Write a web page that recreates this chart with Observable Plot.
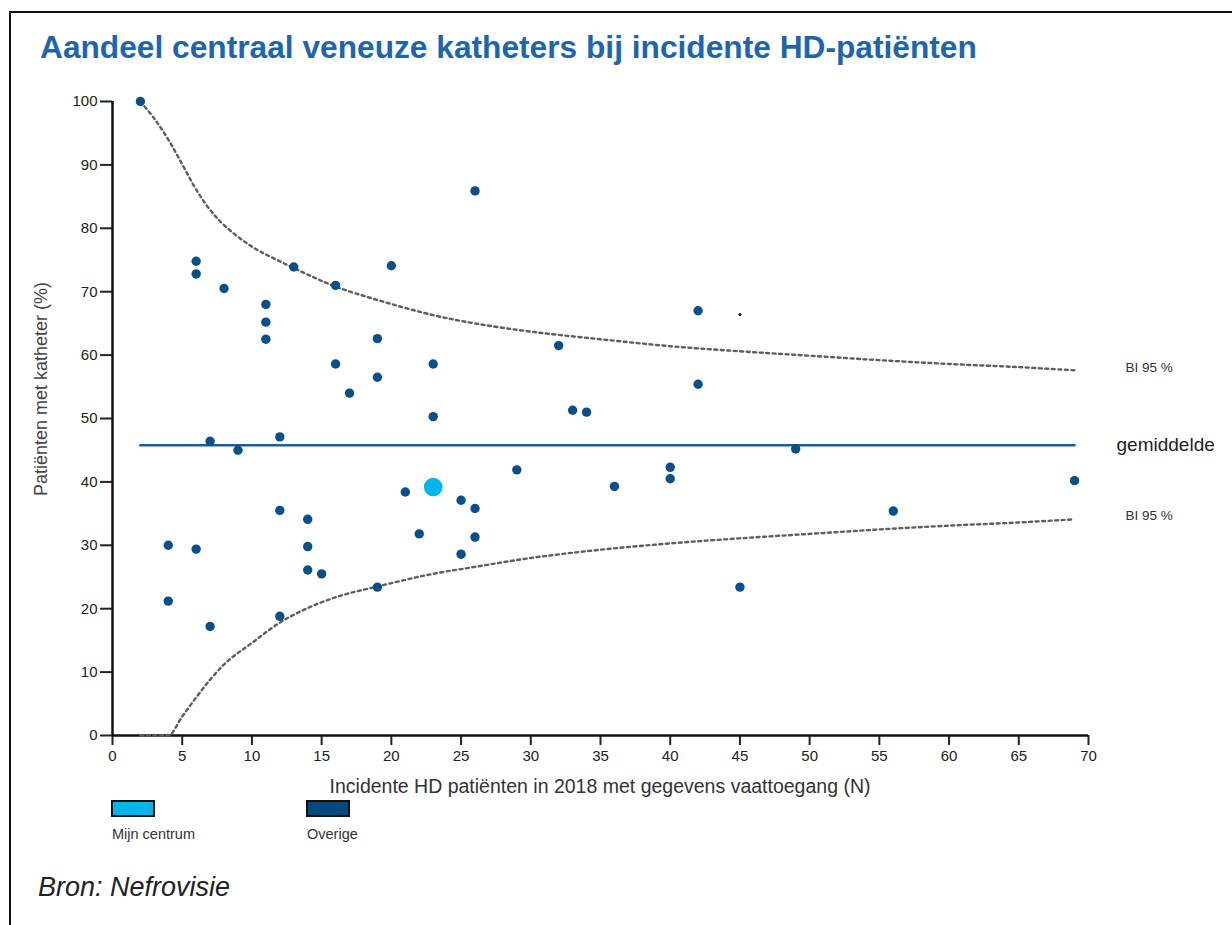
<!DOCTYPE html>
<html>
<head>
<meta charset="utf-8">
<script src="https://cdn.jsdelivr.net/npm/d3@7"></script>
<script src="https://cdn.jsdelivr.net/npm/@observablehq/plot@0.6"></script>
<style>
  body { margin: 0; background: #fff; }
  #wrap { position: relative; width: 1232px; height: 925px; overflow: hidden; font-family: "Liberation Sans", Arial, sans-serif; }
  #frame { position: absolute; left: 9px; top: 11px; right: -10px; bottom: -10px; border-top: 2px solid #111; border-left: 2px solid #111; }
  #chart { position: absolute; left: 0; top: 0; }
  .t { position: absolute; white-space: nowrap; line-height: 1; }
  .sw { position: absolute; box-sizing: border-box; border: 2px solid #111; width: 44px; height: 17px; top: 800px; }
</style>
</head>
<body>
<div id="wrap">
  <div id="frame"></div>
  <div id="chart"></div>
  <div class="t" id="title" style="left:40px; top:32px; font-size:31.7px; font-weight:bold; color:#1f65ab;"></div>
  <div class="t" id="ylab" style="left:41px; top:389px; font-size:18px; color:#444; transform:translate(-50%,-50%) rotate(-90deg);"></div>
  <div class="t" id="xlab" style="left:600px; top:776.5px; font-size:19.5px; color:#333; transform:translateX(-50%);"></div>
  <div class="sw" id="sw0" style="left:111px;"></div>
  <div class="sw" id="sw1" style="left:306px;"></div>
  <div class="t" id="lg0" style="left:112px; top:827px; font-size:14.5px; color:#333;"></div>
  <div class="t" id="lg1" style="left:307px; top:827px; font-size:14.5px; color:#333;"></div>
  <div class="t" id="source" style="left:38px; top:874px; font-size:27px; font-style:italic; color:#222;"></div>
</div>
<script>
// ---- texts ----
const titleText = "Aandeel centraal veneuze katheters bij incidente HD-patiënten";
const xLabel = "Incidente HD patiënten in 2018 met gegevens vaattoegang (N)";
const yLabel = "Patiënten met katheter (%)";
const legendLabels = ["Mijn centrum", "Overige"];
const legendColors = ["#00b4ee", "#0a4f8a"];
const sourceText = "Bron: Nefrovisie";
const meanLabel = "gemiddelde";
const ciLabel = "BI 95 %";

// ---- ticks ----
const xTicks = [0, 5, 10, 15, 20, 25, 30, 35, 40, 45, 50, 55, 60, 65, 70];
const yTicks = [0, 10, 20, 30, 40, 50, 60, 70, 80, 90, 100];

// ---- data ----
const myCentreN = [23];
const myCentrePct = [39.2];

const otherN = [2, 26, 6, 6, 8, 13, 20, 16, 11, 11, 11, 19, 32, 16, 23, 19, 17, 23, 33, 34, 7, 9, 12,
  21, 29, 36, 25, 26, 12, 14, 22, 26, 4, 6, 14, 25, 14, 15, 19, 4, 12, 7,
  42, 42, 49, 40, 40, 69, 56, 45];
const otherPct = [100, 85.9, 74.8, 72.8, 70.5, 73.9, 74.1, 71.0, 68.0, 65.2, 62.5, 62.6, 61.5, 58.6, 58.6, 56.5, 54.0, 50.3, 51.3, 51.0, 46.4, 45.0, 47.1,
  38.4, 41.9, 39.3, 37.1, 35.8, 35.5, 34.1, 31.8, 31.3, 30.0, 29.4, 29.8, 28.6, 26.1, 25.5, 23.4, 21.2, 18.8, 17.2,
  67.0, 55.4, 45.2, 42.3, 40.5, 40.2, 35.4, 23.4];

const strayN = [45];
const strayPct = [66.4];

const meanPct = 45.8;
const meanRange = [2, 69];

const ciN = [2, 3, 4, 5, 6, 7, 8, 10, 12, 14, 16, 19, 23, 26, 30, 35, 40, 45, 50, 55, 60, 65, 69];
const ciUpper = [100, 97.3, 94.0, 90.1, 86.1, 82.9, 80.5, 77.1, 74.8, 72.7, 70.8, 68.7, 66.3, 65.0, 63.7, 62.5, 61.4, 60.6, 59.9, 59.2, 58.6, 58.1, 57.6];
const ciLower = [0, 0, 0, 3.0, 6.0, 8.8, 11.2, 14.6, 17.8, 20.1, 21.8, 23.5, 25.5, 26.6, 28.0, 29.3, 30.3, 31.1, 31.8, 32.5, 33.1, 33.6, 34.1];

// ---- tables ----
const others = otherN.map((n, i) => ({n, p: otherPct[i]}));
const mine = myCentreN.map((n, i) => ({n, p: myCentrePct[i]}));
const stray = strayN.map((n, i) => ({n, p: strayPct[i]}));
const upper = ciN.map((n, i) => ({n, p: ciUpper[i]}));
const lower = ciN.map((n, i) => ({n, p: ciLower[i]}));
const meanLine = meanRange.map(n => ({n, p: meanPct}));
const lastN = ciN[ciN.length - 1];

const chart = Plot.plot({
  width: 1232,
  height: 925,
  marginLeft: 112,
  marginRight: 144,
  marginTop: 101,
  marginBottom: 190,
  x: {domain: [0, 70]},
  y: {domain: [0, 100]},
  style: {fontFamily: '"Liberation Sans", Arial, sans-serif', fontSize: "15px", color: "#222", background: "transparent", overflow: "visible"},
  marks: [
    Plot.axisX({ticks: xTicks, tickSize: 10, tickPadding: 5, strokeWidth: 2, label: null, fontSize: 15}),
    Plot.axisY({ticks: yTicks, tickSize: 12, tickPadding: 3, strokeWidth: 2, label: null, fontSize: 15}),
    Plot.ruleY([0], {stroke: "#111", strokeWidth: 2.5}),
    Plot.ruleX([0], {stroke: "#111", strokeWidth: 2.5}),
    Plot.line(upper, {x: "n", y: "p", stroke: "#5e5e5e", strokeWidth: 2.4, strokeDasharray: "3,3.5", curve: "catmull-rom"}),
    Plot.line(lower, {x: "n", y: "p", stroke: "#5e5e5e", strokeWidth: 2.4, strokeDasharray: "3,3.5", curve: "monotone-x"}),
    Plot.line(meanLine, {x: "n", y: "p", stroke: "#1d5e98", strokeWidth: 2.5}),
    Plot.dot(others, {x: "n", y: "p", r: 4.7, fill: legendColors[1], stroke: "none"}),
    Plot.dot(stray, {x: "n", y: "p", r: 1.5, fill: "#111", stroke: "none"}),
    Plot.dot(mine, {x: "n", y: "p", r: 9.3, fill: legendColors[0], stroke: "none"}),
    Plot.text([meanLabel], {x: () => lastN, y: () => meanPct, text: d => d, textAnchor: "start", dx: 42, dy: 0, fontSize: 19, fill: "#222"}),
    Plot.text([ciLabel], {x: () => lastN, y: () => ciUpper[ciUpper.length - 1], text: d => d, textAnchor: "start", dx: 51, dy: -3, fontSize: 13.5, fill: "#333"}),
    Plot.text([ciLabel], {x: () => lastN, y: () => ciLower[ciLower.length - 1], text: d => d, textAnchor: "start", dx: 51, dy: -3.5, fontSize: 13.5, fill: "#333"})
  ]
});
document.getElementById("chart").appendChild(chart);

document.getElementById("title").textContent = titleText;
document.getElementById("xlab").textContent = xLabel;
document.getElementById("ylab").textContent = yLabel;
document.getElementById("lg0").textContent = legendLabels[0];
document.getElementById("lg1").textContent = legendLabels[1];
document.getElementById("sw0").style.background = legendColors[0];
document.getElementById("sw1").style.background = "#004a80";
document.getElementById("source").textContent = sourceText;
</script>
</body>
</html>
